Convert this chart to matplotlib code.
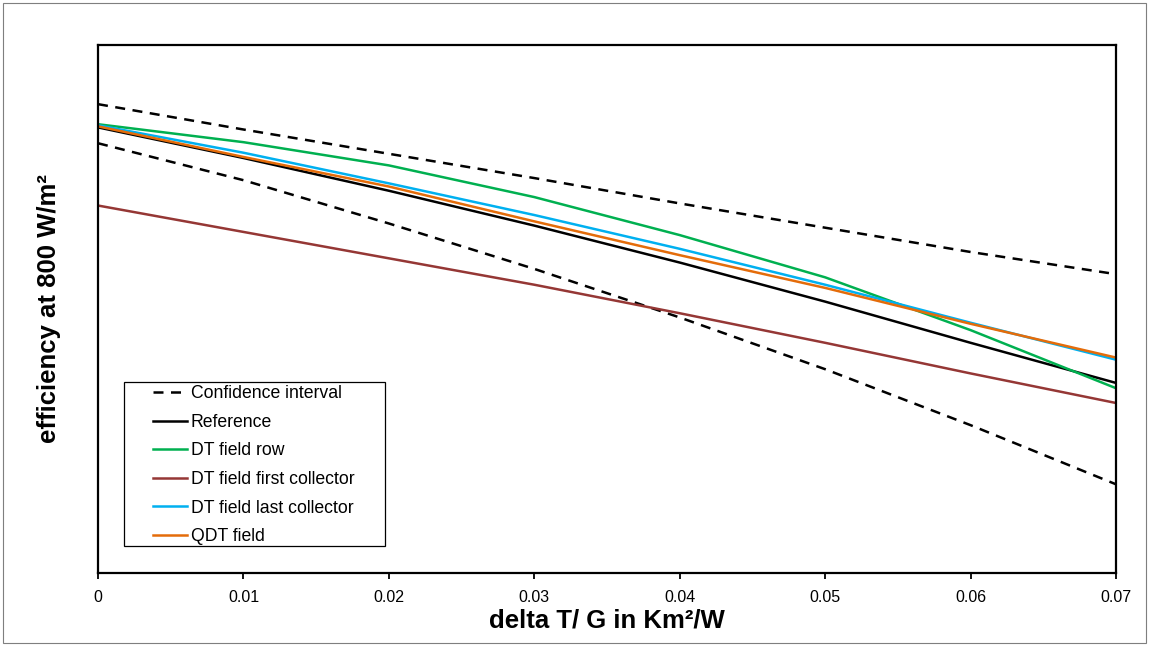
import matplotlib.pyplot as plt
from matplotlib.patches import Rectangle

plt.rcParams["font.family"] = ["Liberation Sans", "DejaVu Sans"]

# x positions (delta T / G) and efficiency values per curve
dtg = [0.0, 0.01, 0.02, 0.03, 0.04, 0.05, 0.06, 0.07]
ci_upper = [0.744, 0.720, 0.697, 0.674, 0.650, 0.627, 0.604, 0.583]
ci_lower = [0.707, 0.672, 0.631, 0.588, 0.542, 0.493, 0.440, 0.384]
reference = [0.722, 0.693, 0.662, 0.629, 0.594, 0.557, 0.518, 0.480]
dt_row = [0.725, 0.708, 0.686, 0.656, 0.620, 0.580, 0.530, 0.475]
dt_first = [0.648, 0.623, 0.598, 0.573, 0.546, 0.518, 0.489, 0.461]
dt_last = [0.724, 0.698, 0.669, 0.639, 0.607, 0.573, 0.537, 0.502]
qdt = [0.723, 0.694, 0.666, 0.633, 0.601, 0.570, 0.536, 0.504]

xticks = [0, 0.01, 0.02, 0.03, 0.04, 0.05, 0.06, 0.07]
xticklabels = ["0", "0.01", "0.02", "0.03", "0.04", "0.05", "0.06", "0.07"]

fig = plt.figure(figsize=(11.49, 6.46), dpi=100)
ax = fig.add_axes([0.0853, 0.1130, 0.8860, 0.8173])

lw = 1.8
ax.plot(dtg, ci_upper, color="black", lw=lw, dashes=(4, 3), label="Confidence interval")
ax.plot(dtg, ci_lower, color="black", lw=lw, dashes=(4, 3))
ax.plot(dtg, reference, color="black", lw=lw, label="Reference")
ax.plot(dtg, dt_row, color="#00B050", lw=lw, label="DT field row")
ax.plot(dtg, dt_first, color="#953735", lw=lw, label="DT field first collector")
ax.plot(dtg, dt_last, color="#00B0F0", lw=lw, label="DT field last collector")
ax.plot(dtg, qdt, color="#E46C0A", lw=lw, label="QDT field")

ax.set_xlim(0, 0.07)
ax.set_ylim(0.3, 0.8)
ax.set_xticks(xticks)
ax.set_xticklabels(xticklabels, fontsize=11.5)
ax.set_yticks([])
ax.tick_params(axis="x", direction="out", length=4, width=1.3, pad=8)
for sp in ax.spines.values():
    sp.set_linewidth(1.6)

ax.set_xlabel("delta T/ G in Km²/W", fontsize=18.5, fontweight="bold", labelpad=3)
ax.set_ylabel("efficiency at 800 W/m²", fontsize=18.5, fontweight="bold", labelpad=27)

# legend box drawn separately so the entries can sit with Excel-like padding
ax.add_patch(Rectangle((0.0255, 0.051), 0.2565, 0.311, transform=ax.transAxes,
                       facecolor="white", edgecolor="black", lw=0.9, zorder=4))
leg = ax.legend(loc="upper left", bbox_to_anchor=(0.054, 0.356), frameon=False,
                fontsize=12.7, handlelength=1.95, handletextpad=0.2,
                labelspacing=0.66, borderaxespad=0, borderpad=0)
leg.set_zorder(5)

# thin outer chart border
fig.patches.append(Rectangle((0.003, 0.004), 0.994, 0.992, transform=fig.transFigure,
                             fill=False, edgecolor="#7f7f7f", lw=0.8))

fig.savefig("out.png", dpi=100)
